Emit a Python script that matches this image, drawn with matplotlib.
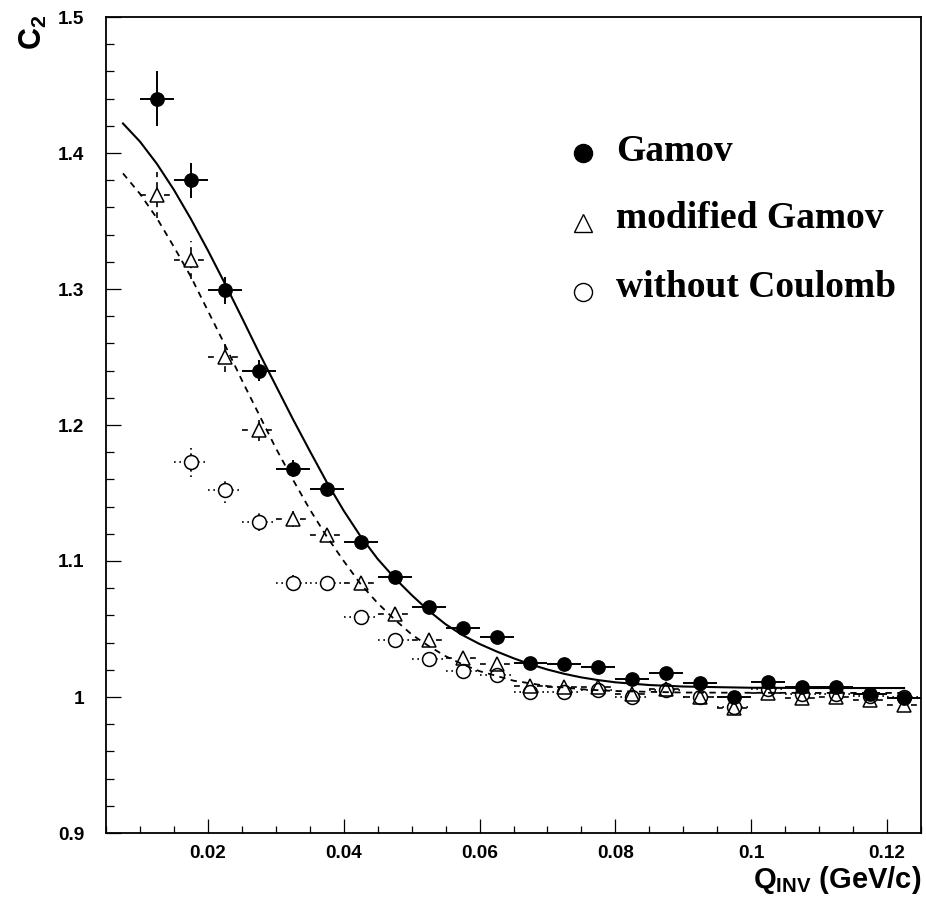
import matplotlib
matplotlib.use("Agg")
import matplotlib.pyplot as plt
import numpy as np

# ---------------- data ----------------
q_bins = [0.0125, 0.0175, 0.0225, 0.0275, 0.0325, 0.0375, 0.0425, 0.0475,
          0.0525, 0.0575, 0.0625, 0.0675, 0.0725, 0.0775, 0.0825, 0.0875,
          0.0925, 0.0975, 0.1025, 0.1075, 0.1125, 0.1175, 0.1225]
q_half_width = 0.0025

gamov_y = [1.440, 1.380, 1.299, 1.240, 1.168, 1.153, 1.114, 1.088, 1.066,
           1.051, 1.044, 1.025, 1.024, 1.022, 1.013, 1.018, 1.010, 1.000,
           1.011, 1.007, 1.007, 1.002, 0.999]
gamov_err = [0.020, 0.013, 0.010, 0.008, 0.006, 0.005, 0.004, 0.004, 0.003,
             0.003, 0.003, 0.003, 0.003, 0.003, 0.003, 0.003, 0.003, 0.003,
             0.003, 0.003, 0.003, 0.003, 0.003]

mod_y = [1.369, 1.321, 1.250, 1.196, 1.131, 1.119, 1.084, 1.061, 1.042,
         1.029, 1.024, 1.008, 1.007, 1.007, 1.002, 1.006, 1.000, 0.992,
         1.003, 0.999, 1.000, 0.998, 0.994]
mod_err = [0.017, 0.014, 0.011, 0.008, 0.006, 0.005, 0.004, 0.004, 0.003,
           0.003, 0.003, 0.003, 0.003, 0.003, 0.003, 0.003, 0.003, 0.003,
           0.003, 0.003, 0.003, 0.003, 0.003]

noc_q = [0.0175, 0.0225, 0.0275, 0.0325, 0.0375, 0.0425, 0.0475, 0.0525,
         0.0575, 0.0625, 0.0675, 0.0725, 0.0775, 0.0825, 0.0875, 0.0925,
         0.0975, 0.1025, 0.1075, 0.1125, 0.1175, 0.1225]
noc_y = [1.173, 1.152, 1.129, 1.084, 1.084, 1.059, 1.042, 1.028, 1.019,
         1.016, 1.004, 1.004, 1.005, 1.000, 1.005, 1.000, 0.993, 1.006,
         1.002, 1.002, 1.001, 1.000]
noc_err = [0.0115, 0.009, 0.007, 0.006, 0.005, 0.004, 0.004, 0.003, 0.003,
           0.003, 0.003, 0.003, 0.003, 0.003, 0.003, 0.003, 0.003, 0.003,
           0.003, 0.003, 0.003, 0.003]

# fit curves
fit_q = [0.0075, 0.0100, 0.0125, 0.0150, 0.0175, 0.0200, 0.0225, 0.0250,
         0.0275, 0.0300, 0.0325, 0.0350, 0.0375, 0.0400, 0.0425, 0.0450,
         0.0475, 0.0500, 0.0525, 0.0550, 0.0575, 0.0600, 0.0625, 0.0650,
         0.0675, 0.0700, 0.0725, 0.0750, 0.0775, 0.0800, 0.0850, 0.0900,
         0.1000, 0.1100, 0.1225]
fit_gamov = [1.4217, 1.4084, 1.3920, 1.3729, 1.3515, 1.3284, 1.3041, 1.2790,
             1.2535, 1.2290, 1.2045, 1.1810, 1.1580, 1.1370, 1.1180, 1.1015,
             1.0875, 1.0750, 1.0635, 1.0535, 1.0455, 1.0390, 1.0335, 1.0285,
             1.0240, 1.0202, 1.0170, 1.0144, 1.0124, 1.0108, 1.0088, 1.0077,
             1.0068, 1.0066, 1.0066]
fit_mod = [1.385, 1.370, 1.352, 1.331, 1.309, 1.284, 1.259, 1.233,
           1.208, 1.183, 1.160, 1.138, 1.118, 1.100, 1.083, 1.069,
           1.057, 1.046, 1.0375, 1.030, 1.024, 1.019, 1.0155, 1.012,
           1.010, 1.008, 1.007, 1.0057, 1.005, 1.0044, 1.0038, 1.0033,
           1.0031, 1.0030, 1.0030]

legend_labels = ["Gamov", "modified Gamov", "without Coulomb"]
xtick_vals = [0.02, 0.04, 0.06, 0.08, 0.10, 0.12]
xtick_labels = ["0.02", "0.04", "0.06", "0.08", "0.1", "0.12"]
ytick_vals = [0.9, 1.0, 1.1, 1.2, 1.3, 1.4, 1.5]
ytick_labels = ["0.9", "1", "1.1", "1.2", "1.3", "1.4", "1.5"]

# ---------------- style ----------------
plt.rcParams["mathtext.fontset"] = "custom"
plt.rcParams["mathtext.rm"] = "Liberation Sans:bold"
plt.rcParams["mathtext.bf"] = "Liberation Sans:bold"
plt.rcParams["mathtext.it"] = "Liberation Sans:bold"

DPI = 100
fig = plt.figure(figsize=(9.26, 9.01), dpi=DPI)
ax = fig.add_axes([106 / 926, 68 / 901, 815 / 926, 816 / 901])
ax.set_xlim(0.005, 0.125)
ax.set_ylim(0.9, 1.5)

# marker "radius" in data units, so error bars stop at the marker edge
def marker_radius_data(r_px):
    x0, x1 = ax.get_xlim()
    y0, y1 = ax.get_ylim()
    bb = ax.get_position()
    wpx = bb.width * fig.get_figwidth() * DPI
    hpx = bb.height * fig.get_figheight() * DPI
    return r_px * (x1 - x0) / wpx, r_px * (y1 - y0) / hpx

def draw_errors(xs, ys, yerr, xerr, r_px, ls, lw):
    rx, ry = marker_radius_data(r_px)
    xs = np.asarray(xs); ys = np.asarray(ys); yerr = np.asarray(yerr)
    kw = dict(colors="black", linestyles=ls, linewidths=lw, zorder=2)
    ax.hlines(ys, xs - xerr, xs - rx, **kw)
    ax.hlines(ys, xs + rx, xs + xerr, **kw)
    m = yerr > ry
    ax.vlines(xs[m], ys[m] + ry, ys[m] + yerr[m], **kw)
    ax.vlines(xs[m], ys[m] - yerr[m], ys[m] - ry, **kw)

# fit curves
ax.plot(fit_q, fit_gamov, color="black", lw=1.5, zorder=3)
ax.plot(fit_q, fit_mod, color="black", lw=1.3, ls=(0, (3.5, 3.0)), zorder=3)

# error bars
draw_errors(q_bins, gamov_y, gamov_err, q_half_width, 6.0, "solid", 1.4)
draw_errors(q_bins, mod_y, mod_err, q_half_width, 7.0, (0, (3.5, 3.0)), 1.2)
draw_errors(noc_q, noc_y, noc_err, q_half_width, 7.0, (0, (1.0, 2.2)), 1.2)

# markers
ax.plot(noc_q, noc_y, "o", ms=10, mfc="none", mec="black", mew=1.1, ls="none", zorder=4)
ax.plot(q_bins, mod_y, "^", ms=10.5, mfc="none", mec="black", mew=1.1, ls="none", zorder=4)
ax.plot(q_bins, gamov_y, "o", ms=9.6, mfc="black", mec="black", ls="none", zorder=5)

# legend drawn manually
leg_y_marker = [(833 - 153) / 816, (833 - 223) / 816, (833 - 292) / 816]
leg_y_text = [(833 - 161) / 816, (833 - 228) / 816, (833 - 297) / 816]
leg_x_marker = (583 - 106) / 815
leg_x_text = (616 - 106) / 815
ax.plot([leg_x_marker], [leg_y_marker[0]], "o", ms=13, mfc="black", mec="black",
        transform=ax.transAxes, clip_on=False)
ax.plot([leg_x_marker], [leg_y_marker[1]], "^", ms=12.5, mfc="none", mec="black", mew=1.0,
        transform=ax.transAxes, clip_on=False)
ax.plot([leg_x_marker], [leg_y_marker[2]], "o", ms=13, mfc="none", mec="black", mew=1.0,
        transform=ax.transAxes, clip_on=False)
for lab, yy in zip(legend_labels, leg_y_text):
    ax.text(leg_x_text, yy, lab, transform=ax.transAxes, ha="left", va="baseline",
            fontsize=27, fontweight="bold", family="Liberation Serif")

# axes / ticks
for s in ax.spines.values():
    s.set_linewidth(1.3)
ax.set_xticks(xtick_vals)
ax.set_xticklabels(xtick_labels)
ax.set_yticks(ytick_vals)
ax.set_yticklabels(ytick_labels)
ax.xaxis.set_minor_locator(matplotlib.ticker.MultipleLocator(0.005))
ax.yaxis.set_minor_locator(matplotlib.ticker.MultipleLocator(0.02))
ax.tick_params(axis="both", which="both", direction="in", top=False, right=False, width=0.9)
ax.tick_params(axis="x", which="major", length=10, pad=8.5)
ax.tick_params(axis="x", which="minor", length=5)
ax.tick_params(axis="y", which="major", length=11, pad=15.5)
ax.tick_params(axis="y", which="minor", length=5.5)
for lbl in ax.get_xticklabels() + ax.get_yticklabels():
    lbl.set_fontfamily("Liberation Sans")
    lbl.set_fontweight("bold")
    lbl.set_fontsize(13.7)

fig.text(921 / 926, 1 - 888 / 901, r"Q$_{\mathbf{INV}}$ (GeV/c)", ha="right", va="baseline",
         fontsize=21, fontweight="bold", family="Liberation Sans")
fig.text(33 / 926, 1 - 15 / 901, r"C$_{\mathbf{2}}$", rotation=90, ha="center", va="top",
         fontsize=22, fontweight="bold", family="Liberation Sans")

fig.savefig("out.png", dpi=DPI)
